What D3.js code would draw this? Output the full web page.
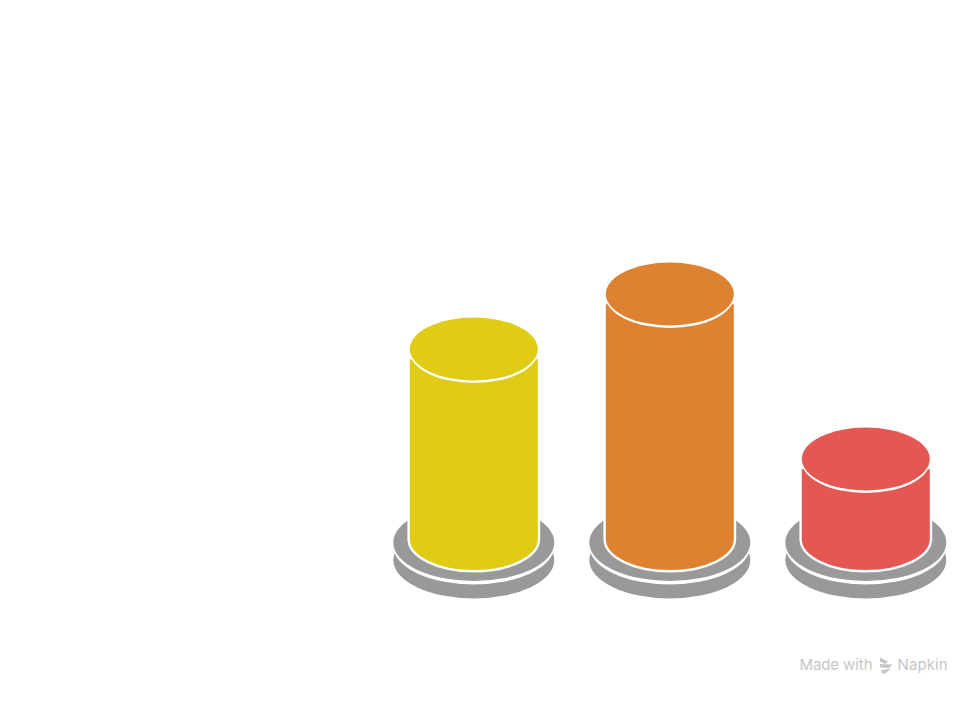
<!DOCTYPE html>
<html>
<head>
<meta charset="utf-8">
<style>
  body { margin: 0; background: #ffffff; }
</style>
<script src="https://cdn.jsdelivr.net/npm/d3@7"></script>
</head>
<body>
<div class="chart"></div>
<script>
// cylinders standing on grey discs, no labels in the picture
var categories = ["first", "second", "third"];
var values = [190, 245, 80];
var colors = ["#e0cb15", "#de8130", "#e55753"];

var width = 980,
    height = 702;

var baseY = 539;   // centre of the cylinder's bottom ellipse
var rx = 64, ry = 31.5;

/* axis */
var x = d3.scalePoint().domain(categories).range([473.8, 865.8]);
var y = d3.scaleLinear().domain([0, 245]).range([baseY, baseY - 245]);

var svg = d3.select(".chart").append("svg")
    .attr("width", width)
    .attr("height", height)
    .style("display", "block");

var g = svg.selectAll("g.cyl")
    .data(categories)
    .enter().append("g")
    .attr("class", "cyl");

/* base discs: lower one, white gap, upper one */
function disc(cy, fill) {
    g.append("ellipse")
        .attr("cx", function(d) { return x(d); })
        .attr("cy", cy)
        .attr("rx", 80.5)
        .attr("ry", 38.5)
        .attr("fill", fill);
}
disc(560, "#999999");
disc(546, "#ffffff");
disc(542.5, "#999999");

/* body */
g.append("path")
    .attr("d", function(d, i) {
        var cx = x(d), r = rx + 1.2, top = y(values[i]) + 9;
        return "M" + (cx - r) + "," + top +
            "L" + (cx - r) + "," + baseY +
            "A" + r + "," + (ry + 0.8) + " 0 0 0 " + (cx + r) + "," + baseY +
            "L" + (cx + r) + "," + top + "Z";
    })
    .attr("fill", function(d, i) { return colors[i]; })
    .attr("stroke", "#ffffff")
    .attr("stroke-width", 2.4);

/* top: white crescent under the coloured ellipse */
g.append("ellipse")
    .attr("cx", function(d) { return x(d); })
    .attr("cy", function(d, i) { return y(values[i]) + 2.5; })
    .attr("rx", rx)
    .attr("ry", ry)
    .attr("fill", "#ffffff");

g.append("ellipse")
    .attr("cx", function(d) { return x(d); })
    .attr("cy", function(d, i) { return y(values[i]); })
    .attr("rx", rx)
    .attr("ry", ry)
    .attr("fill", function(d, i) { return colors[i]; });

/* watermark */
var mark = svg.append("g").attr("fill", "#c6c6c6");

mark.append("text")
    .attr("x", 799.5)
    .attr("y", 670)
    .attr("font-family", "Inter, sans-serif")
    .attr("font-size", 15)
    .attr("letter-spacing", -0.1)
    .text("Made with");

mark.append("text")
    .attr("x", 897.5)
    .attr("y", 670)
    .attr("font-family", "Inter, sans-serif")
    .attr("font-size", 15)
    .attr("letter-spacing", 0.1)
    .text("Napkin");

mark.append("path")
    .attr("d", "M880,657.5 L888,661.5 L885,664 L880,661.5 Z" +
               "M880,664 L892.5,664.5 L889,668 L880,667.5 Z" +
               "M881,670 L891,668.5 L885.5,673.5 L882,673.5 Z");
</script>
</body>
</html>
